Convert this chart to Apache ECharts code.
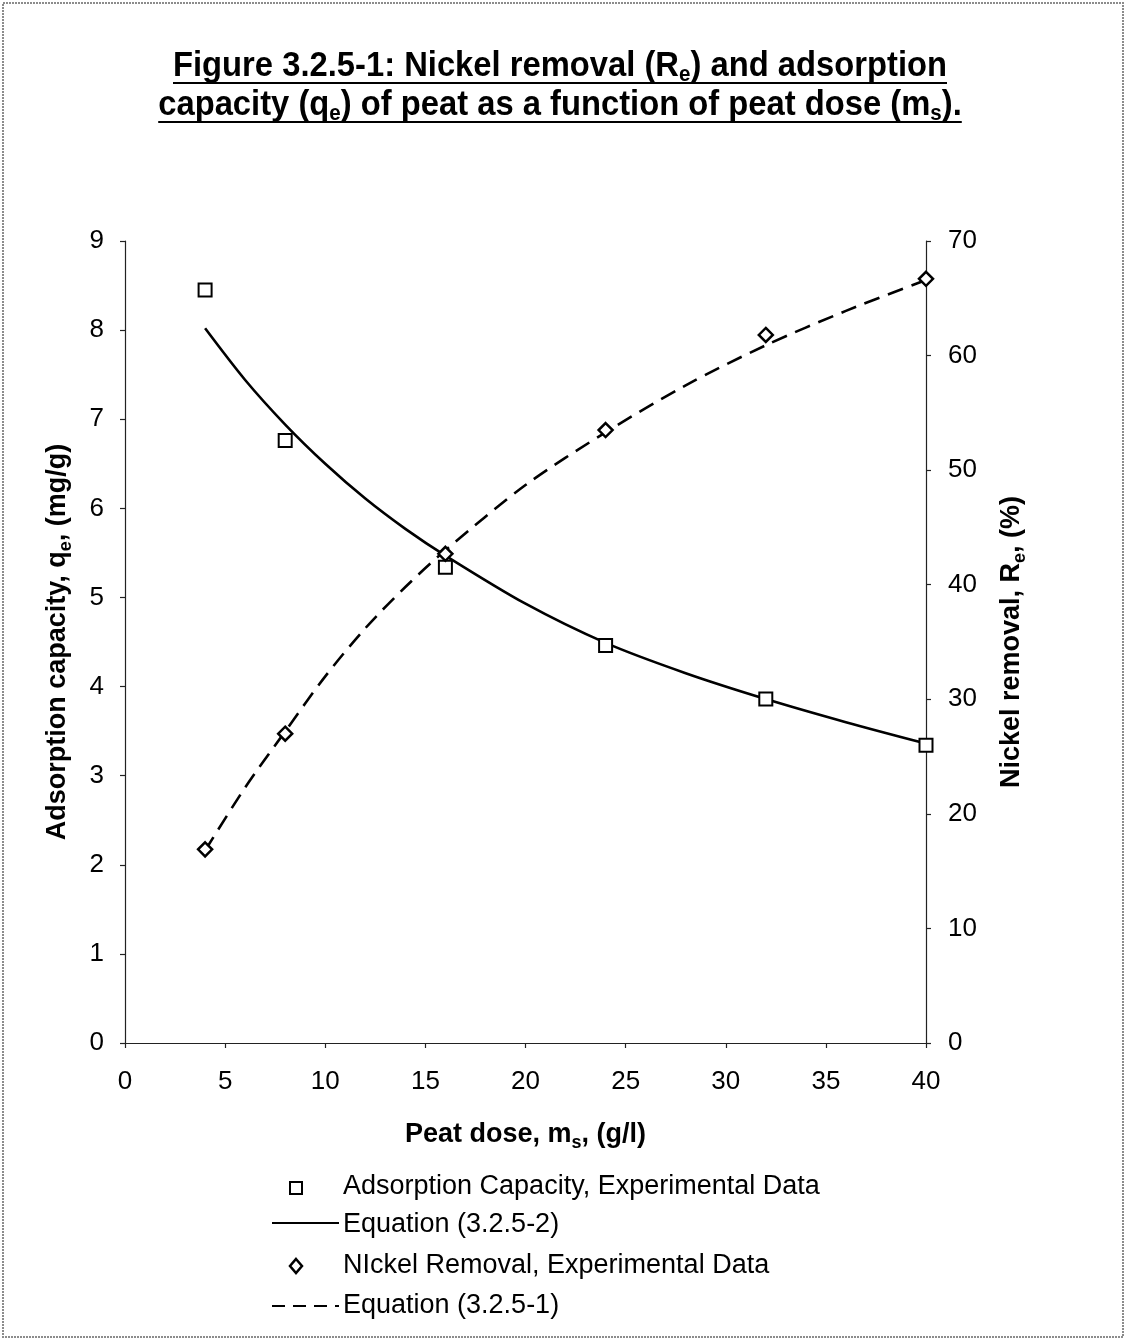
<!DOCTYPE html>
<html>
<head>
<meta charset="utf-8">
<script src="https://cdn.jsdelivr.net/npm/echarts@6/dist/echarts.min.js"></script>
<style>
  html, body { margin: 0; padding: 0; background: #fff; }
  #chart { width: 1128px; height: 1342px; }
</style>
</head>
<body>
<div id="chart"></div>
<script>
// Peat dose (g/l) at which the batch experiments were run
const doseExp = [4, 8, 16, 24, 32, 40];
// Measured adsorption capacity q_e (mg/g)
const capacityExp = [8.45, 6.76, 5.34, 4.46, 3.86, 3.34];
// Measured nickel removal R_e (%)
const removalExp = [16.9, 27.0, 42.7, 53.5, 61.8, 66.7];

// Model curves, sampled along the dose axis
const doseFit = [4, 6, 8, 10, 12, 14, 16, 20, 24, 28, 32, 36, 40];
const capacityFit = [8.02, 7.44, 6.94, 6.50, 6.11, 5.77, 5.47, 4.93, 4.49, 4.15, 3.86, 3.60, 3.36];
const removalFit = [16.8, 22.3, 27.2, 32.0, 36.2, 39.8, 43.0, 48.7, 53.3, 57.4, 60.9, 63.9, 66.6];

// Axis ranges and tick steps
const doseTicks = { min: 0, max: 40, step: 5 };
const capacityTicks = { min: 0, max: 9, step: 1 };
const removalTicks = { min: 0, max: 70, step: 10 };

const FONT = "'Liberation Sans', Arial, Helvetica, sans-serif";

const zip = (xs, ys) => xs.map((x, i) => [x, ys[i]]);

// Title lines: [text, isSubscript]
const titleLines = [
  [['Figure 3.2.5-1: Nickel removal (R', false], ['e', true], [') and adsorption', false]],
  [['capacity (q', false], ['e', true], [') of peat as a function of peat dose (m', false], ['s', true], [').', false]]
];

// Measure the title so it can be condensed horizontally and underlined
const ctx = document.createElement('canvas').getContext('2d');
const titleSize = 35;
const subSize = Math.round(titleSize * 0.62);
function lineWidth(segs) {
  let w = 0;
  segs.forEach(([t, sub]) => {
    ctx.font = 'bold ' + (sub ? subSize : titleSize) + 'px ' + FONT;
    w += ctx.measureText(t).width;
  });
  return w;
}
const titleScaleX = 774 / lineWidth(titleLines[0]);

const titleCx = 560;
const titleY = [66, 105];
const titleGraphics = [];
titleLines.forEach((segs, i) => {
  const text = segs.map(([t, sub]) => sub ? '{sub|' + t + '}' : t).join('');
  const w = lineWidth(segs) * titleScaleX;
  titleGraphics.push({
    type: 'text',
    x: titleCx, y: titleY[i], scaleX: titleScaleX,
    style: {
      text: text,
      fontFamily: FONT, fontWeight: 'bold', fontSize: titleSize,
      lineHeight: 40,
      fill: '#000', align: 'center', verticalAlign: 'middle',
      rich: {
        sub: { fontFamily: FONT, fontWeight: 'bold', fontSize: subSize, lineHeight: subSize, verticalAlign: 'bottom', fill: '#000' }
      }
    }
  });
  titleGraphics.push({
    type: 'line',
    shape: { x1: titleCx - w / 2, y1: titleY[i] + 17, x2: titleCx + w / 2, y2: titleY[i] + 17 },
    style: { stroke: '#000', lineWidth: 2 }
  });
});

// Legend block under the axis title
const legendText = { fontFamily: FONT, fontSize: 27, fill: '#000', verticalAlign: 'middle', align: 'left' };
const legendGraphics = [
  { type: 'rect', shape: { x: 290, y: 1182, width: 12, height: 12 }, style: { fill: '#fff', stroke: '#000', lineWidth: 2 } },
  { type: 'text', x: 343, y: 1187, style: Object.assign({ text: 'Adsorption Capacity, Experimental Data' }, legendText) },
  { type: 'line', shape: { x1: 272, y1: 1223, x2: 339, y2: 1223 }, style: { stroke: '#000', lineWidth: 2 } },
  { type: 'text', x: 343, y: 1225, style: Object.assign({ text: 'Equation (3.2.5-2)' }, legendText) },
  { type: 'polygon', shape: { points: [[296, 1259], [302, 1266], [296, 1273], [290, 1266]] }, style: { fill: '#fff', stroke: '#000', lineWidth: 2.5 } },
  { type: 'text', x: 343, y: 1266, style: Object.assign({ text: 'NIckel Removal, Experimental Data' }, legendText) },
  { type: 'line', shape: { x1: 272, y1: 1306, x2: 339, y2: 1306 }, style: { stroke: '#000', lineWidth: 2, lineDash: [13, 8] } },
  { type: 'text', x: 343, y: 1306, style: Object.assign({ text: 'Equation (3.2.5-1)' }, legendText) }
];

// Outer frame of the figure
const frame = {
  type: 'rect',
  shape: { x: 3, y: 3, width: 1120, height: 1334 },
  style: { fill: 'none', stroke: '#8c8c8c', lineWidth: 2, lineDash: [2, 1] }
};

const axisLine = { show: true, lineStyle: { color: '#222', width: 1.2 } };
const axisTick = { show: true, inside: false, length: 5, lineStyle: { color: '#222', width: 1.2 } };
const tickLabel = { color: '#000', fontFamily: FONT, fontSize: 26 };
const nameStyle = {
  color: '#000', fontFamily: FONT, fontSize: 27, fontWeight: 'bold', lineHeight: 34,
  rich: { sub: { color: '#000', fontFamily: FONT, fontSize: 18, fontWeight: 'bold', lineHeight: 18, verticalAlign: 'bottom' } }
};

const chart = echarts.init(document.getElementById('chart'), null, { renderer: 'canvas' });
chart.setOption({
  animation: false,
  backgroundColor: '#fff',
  grid: { left: 125, right: 202, top: 241, bottom: 299, outerBoundsMode: 'none', containLabel: false },
  xAxis: {
    type: 'value', min: doseTicks.min, max: doseTicks.max, interval: doseTicks.step,
    axisLine: axisLine, axisTick: axisTick, splitLine: { show: false },
    axisLabel: Object.assign({ margin: 26 }, tickLabel),
    name: 'Peat dose, m{sub|s}, (g/l)', nameLocation: 'middle', nameGap: 75,
    nameTextStyle: nameStyle
  },
  yAxis: [
    {
      type: 'value', position: 'left', min: capacityTicks.min, max: capacityTicks.max, interval: capacityTicks.step,
      axisLine: axisLine, axisTick: axisTick, splitLine: { show: false },
      axisLabel: Object.assign({ margin: 21 }, tickLabel),
      name: 'Adsorption capacity, q{sub|e}, (mg/g)', nameLocation: 'middle', nameGap: 50,
      nameTextStyle: nameStyle
    },
    {
      type: 'value', position: 'right', min: removalTicks.min, max: removalTicks.max, interval: removalTicks.step,
      axisLine: axisLine, axisTick: axisTick, splitLine: { show: false },
      axisLabel: Object.assign({ margin: 22 }, tickLabel),
      name: 'Nickel removal, R{sub|e}, (%)', nameLocation: 'middle', nameGap: 69,
      nameTextStyle: nameStyle
    }
  ],
  series: [
    {
      name: 'Equation (3.2.5-2)', type: 'line', yAxisIndex: 0,
      data: zip(doseFit, capacityFit), smooth: 0.3, showSymbol: false,
      lineStyle: { color: '#000', width: 2.6 }, z: 2
    },
    {
      name: 'Equation (3.2.5-1)', type: 'line', yAxisIndex: 1,
      data: zip(doseFit, removalFit), smooth: 0.3, showSymbol: false,
      lineStyle: { color: '#000', width: 2.6, type: [16, 9] }, z: 2
    },
    {
      name: 'Adsorption Capacity, Experimental Data', type: 'scatter', yAxisIndex: 0,
      data: zip(doseExp, capacityExp), symbol: 'rect', symbolSize: 13,
      itemStyle: { color: '#fff', borderColor: '#000', borderWidth: 2, opacity: 1 }, z: 5
    },
    {
      name: 'NIckel Removal, Experimental Data', type: 'scatter', yAxisIndex: 1,
      data: zip(doseExp, removalExp), symbol: 'diamond', symbolSize: [14, 14],
      itemStyle: { color: '#fff', borderColor: '#000', borderWidth: 2.5, opacity: 1 }, z: 5
    }
  ],
  graphic: [frame].concat(titleGraphics, legendGraphics)
});
</script>
</body>
</html>
